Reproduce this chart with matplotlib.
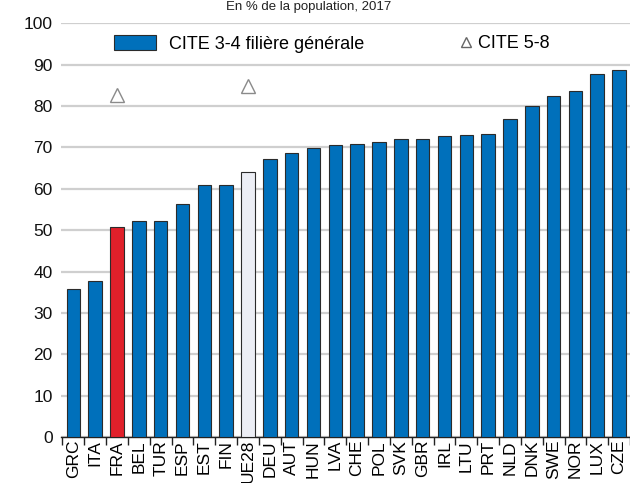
import numpy as np
import matplotlib
matplotlib.use("Agg")
import matplotlib.pyplot as plt
from matplotlib.patches import Patch
from matplotlib.lines import Line2D

plt.rcParams['font.family'] = ['Liberation Sans Narrow', 'Liberation Sans', 'DejaVu Sans']

pays = ['GRC', 'ITA', 'FRA', 'BEL', 'TUR', 'ESP', 'EST', 'FIN', 'UE28', 'DEU',
        'AUT', 'HUN', 'LVA', 'CHE', 'POL', 'SVK', 'GBR', 'IRL', 'LTU', 'PRT',
        'NLD', 'DNK', 'SWE', 'NOR', 'LUX', 'CZE']
cite34 = [35.8, 37.8, 50.7, 52.1, 52.1, 56.2, 61.0, 61.0, 64.0, 67.3,
          68.7, 69.8, 70.5, 70.7, 71.4, 72.0, 72.0, 72.7, 73.1, 73.3,
          76.8, 79.9, 82.5, 83.6, 87.8, 88.6]
# CITE 5-8 : seulement FRA et UE28
cite58_pays = ['FRA', 'UE28']
cite58 = [82.7, 84.9]

couleurs = []
for p in pays:
    if p == 'FRA':
        couleurs.append('#e0202a')
    elif p == 'UE28':
        couleurs.append('#eceef5')
    else:
        couleurs.append('#0070bb')

fig = plt.figure(figsize=(6.3, 4.83), dpi=100)
ax = fig.add_axes([0.097, 0.095, 0.903, 0.857])

x = np.arange(len(pays))
ax.bar(x, cite34, width=0.62, color=couleurs, edgecolor='#2b2b2b', linewidth=0.8, zorder=3)
x58 = [pays.index(p) for p in cite58_pays]
ax.plot(x58, cite58, linestyle='none', marker='^', markersize=10,
        markerfacecolor='white', markeredgecolor='#8a8a8a', markeredgewidth=1.0, zorder=4)

ax.set_ylim(0, 100)
ax.set_xlim(-0.56, len(pays) - 1 + 0.33)
ax.set_yticks(np.arange(0, 101, 10))
ax.yaxis.grid(True, color='#cfcfcf', linewidth=1.6, zorder=0)
ax.set_axisbelow(True)
for s in ['top', 'right', 'left']:
    ax.spines[s].set_visible(False)
ax.spines['bottom'].set_color('#222222')
ax.spines['bottom'].set_linewidth(1.0)
ax.tick_params(axis='y', length=0, labelsize=12.5, pad=6, labelcolor='#111111')

ax.set_xticks(x)
ax.set_xticklabels(pays, rotation=90, fontsize=12.5)
ax.tick_params(axis='x', which='major', length=0, pad=2)
ax.set_xticks(np.arange(-0.5, len(pays) - 0.5 + 0.01, 1), minor=True)
ax.tick_params(axis='x', which='minor', length=6, width=1.0, color='#222222', direction='out')

# legende : deux blocs separes
leg1 = ax.legend([Patch(facecolor='#0070bb', edgecolor='#2b2b2b', linewidth=0.8)],
                 ['CITE 3-4 filière générale'], frameon=False,
                 loc='center left', bbox_to_anchor=(0.065, 0.95), fontsize=13,
                 handlelength=2.3, handleheight=0.85, handletextpad=0.7)
ax.add_artist(leg1)
ax.legend([Line2D([], [], linestyle='none', marker='^', markersize=7,
                  markerfacecolor='white', markeredgecolor='#666666')],
          ['CITE 5-8'], frameon=False, loc='center left', bbox_to_anchor=(0.67, 0.95),
          fontsize=13, handlelength=0.8, handletextpad=0.3)

fig.text(0.49, 0.985, 'En % de la population, 2017', ha='center', va='center', fontsize=9.5,
         color='#222222')

fig.savefig('out.png', dpi=100)
